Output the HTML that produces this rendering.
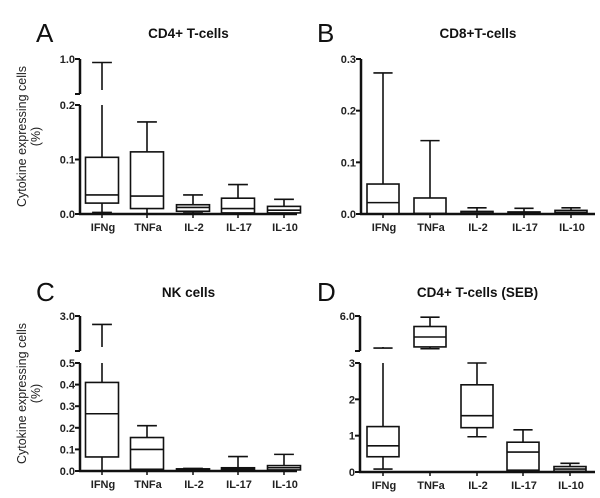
<!DOCTYPE html>
<html><head><meta charset="utf-8"><style>
body{margin:0;background:#fff}
svg{display:block;font-family:"Liberation Sans",Arial,sans-serif}
.tk{font-size:11px;font-weight:bold;fill:#222;font-family:"Liberation Sans",Arial,sans-serif}
.cat{font-size:11px;font-weight:bold;fill:#222;font-family:"Liberation Sans",Arial,sans-serif}
.ttl{font-size:13.5px;font-weight:bold;fill:#111;font-family:"Liberation Sans",Arial,sans-serif}
.let{font-size:26px;fill:#111;font-family:"Liberation Sans",Arial,sans-serif}
.yt{font-size:12.5px;fill:#222;font-family:"Liberation Sans",Arial,sans-serif}
</style></head><body>
<svg id="chart" width="600" height="498" viewBox="0 0 600 498"></svg>
<script>
const categories = ["IFNg","TNFa","IL-2","IL-17","IL-10"];
// each box: [min, q1, median, q3, max]
const boxesA = [[0.003,0.02,0.035,0.104,0.92],[0,0.01,0.033,0.114,0.169],[0.002,0.005,0.012,0.017,0.035],[0,0.002,0.01,0.029,0.054],[0,0.002,0.007,0.014,0.027]];
const boxesB = [[0,0,0.022,0.058,0.273],[0,0,0.001,0.031,0.142],[0,0,0.002,0.005,0.012],[0,0,0.002,0.004,0.011],[0,0,0.003,0.007,0.012]];
const boxesC = [[0,0.065,0.265,0.41,2.4],[0,0.008,0.1,0.155,0.21],[0,0.002,0.005,0.01,0.012],[0,0.003,0.008,0.015,0.067],[0,0.005,0.015,0.025,0.077]];
const boxesD = [[0.08,0.42,0.72,1.25,3.25],[3.2,3.35,4.2,5.1,5.9],[0.97,1.22,1.55,2.4,3.0],[0,0.05,0.55,0.82,1.16],[0,0.02,0.08,0.15,0.24]];
const ticksA = ["0.0","0.1","0.2"], ticksAUp = ["1.0"];
const ticksB = ["0.0","0.1","0.2","0.3"];
const ticksC = ["0.0","0.1","0.2","0.3","0.4","0.5"], ticksCUp = ["3.0"];
const ticksD = ["0","1","2","3"], ticksDUp = ["6.0"];

const svg = document.getElementById('chart');
const NS = 'http://www.w3.org/2000/svg';
function mk(tag, attrs, parent){const e=document.createElementNS(NS,tag);for(const k in attrs)e.setAttribute(k,attrs[k]);(parent||svg).appendChild(e);return e;}

const panels = [
 {id:'a',letter:'A',title:'CD4+ T-cells',ax:80,xEnd:297,cx:[102,147,193,238,284],bw:33,
  low:{min:0,max:0.2,y0:214,y1:105},up:{min:0.2,max:1.0,y0:94,y1:59},ticks:ticksA,upTicks:ticksAUp,boxes:boxesA,ytitle:true,ty:38,lx:36},
 {id:'b',letter:'B',title:'CD8+T-cells',ax:361,xEnd:595,cx:[383,430,477,524,571],bw:32,
  low:{min:0,max:0.3,y0:214,y1:59},up:null,ticks:ticksB,upTicks:[],boxes:boxesB,ytitle:false,ty:38,lx:317},
 {id:'c',letter:'C',title:'NK cells',ax:80,xEnd:297,cx:[102,147,193,238,284],bw:33,
  low:{min:0,max:0.5,y0:471,y1:363},up:{min:0.5,max:3.0,y0:351,y1:316},ticks:ticksC,upTicks:ticksCUp,boxes:boxesC,ytitle:true,ty:297,lx:36},
 {id:'d',letter:'D',title:'CD4+ T-cells (SEB)',ax:360,xEnd:595,cx:[383,430,477,523,570],bw:32,
  low:{min:0,max:3,y0:472,y1:363},up:{min:3,max:6,y0:351,y1:316},ticks:ticksD,upTicks:ticksDUp,boxes:boxesD,ytitle:false,ty:297,lx:317}
];

panels.forEach(p=>{
  const g = mk('g',{});
  
  
  const yl = v => p.low.y0 + (Math.min(v,p.low.max)-p.low.min)/(p.low.max-p.low.min)*(p.low.y1-p.low.y0);
  const yu = v => p.up.y0 + (Math.max(v,p.up.min)-p.up.min)/(p.up.max-p.up.min)*(p.up.y1-p.up.y0);
  const y = v => (p.up && v>p.low.max) ? yu(v) : yl(v);
  const lt = mk('text',{x:p.lx,y:p.ty+4,class:'let'},g); lt.textContent=p.letter;
   
  const tt = mk('text',{x:(p.ax+p.xEnd)/2,y:p.ty,class:'ttl','text-anchor':'middle'},g); tt.textContent=p.title;
   
  const ya = mk('g',{},g);
   
  mk('line',{x1:p.ax,y1:p.low.y0+1,x2:p.ax,y2:p.low.y1,stroke:'#111','stroke-width':2.5},ya);
  p.ticks.forEach((t,i)=>{
    const v=parseFloat(t), yy=yl(v);
    mk('line',{x1:p.ax-5,y1:yy,x2:p.ax,y2:yy,stroke:'#111','stroke-width':2},ya);
    const tx=mk('text',{x:p.ax-5,y:yy+4,class:'tk','text-anchor':'end'},ya); tx.textContent=t;
     
  });
  if(p.up){
    mk('line',{x1:p.ax,y1:p.up.y0,x2:p.ax,y2:p.up.y1,stroke:'#111','stroke-width':2.5},ya);
    mk('line',{x1:p.ax-5,y1:p.up.y0,x2:p.ax,y2:p.up.y0,stroke:'#111','stroke-width':2},ya);
    p.upTicks.forEach(t=>{
      const yy=yu(parseFloat(t));
      mk('line',{x1:p.ax-5,y1:yy,x2:p.ax,y2:yy,stroke:'#111','stroke-width':2},ya);
      const tx=mk('text',{x:p.ax-5,y:yy+4,class:'tk','text-anchor':'end'},ya); tx.textContent=t;
       
    });
  }
  const xa = mk('g',{},g);
   
  mk('line',{x1:p.ax-1,y1:p.low.y0,x2:p.xEnd,y2:p.low.y0,stroke:'#111','stroke-width':2.5},xa);
  categories.forEach((c,i)=>{
    mk('line',{x1:p.cx[i],y1:p.low.y0,x2:p.cx[i],y2:p.low.y0+4,stroke:'#111','stroke-width':1.5},xa);
    const tx=mk('text',{x:p.cx[i]+1,y:p.low.y0+17,class:'cat','text-anchor':'middle'},xa); tx.textContent=c;
     
  });
  p.boxes.forEach((b,i)=>{
    const bg = mk('g',{fill:'none',stroke:'#111','stroke-width':1.6},g);
    
    
    const x=p.cx[i], h=p.bw/2, cap=p.bw*0.3;
    const seg=(a,bv)=>{
      if(p.up && bv>p.low.max && a<=p.low.max){
        mk('line',{x1:x,y1:y(a),x2:x,y2:p.low.y1},bg);
        mk('line',{x1:x,y1:p.up.y0-4,x2:x,y2:y(bv)},bg);
      } else mk('line',{x1:x,y1:y(a),x2:x,y2:y(bv)},bg);
    };
    seg(b[3],b[4]); seg(b[0],b[1]);
    mk('line',{x1:x-cap,y1:y(b[4]),x2:x+cap,y2:y(b[4])},bg);
    mk('line',{x1:x-cap,y1:y(b[0]),x2:x+cap,y2:y(b[0])},bg);
    mk('rect',{x:x-h,y:y(b[3]),width:p.bw,height:Math.max(y(b[1])-y(b[3]),0.5)},bg);
    mk('line',{x1:x-h,y1:y(b[2]),x2:x+h,y2:y(b[2])},bg);
  });
  if(p.ytitle){
    const cy=(p.low.y0+(p.up?p.up.y1:p.low.y1))/2;
    const yt=mk('text',{class:'yt','text-anchor':'middle',transform:`translate(26,${cy}) rotate(-90)`},g);
     
    const t1=mk('tspan',{x:0,y:0},yt); t1.textContent='Cytokine expressing cells';
    const t2=mk('tspan',{x:0,y:14},yt); t2.textContent='(%)';
  }
});
</script>
</body></html>
